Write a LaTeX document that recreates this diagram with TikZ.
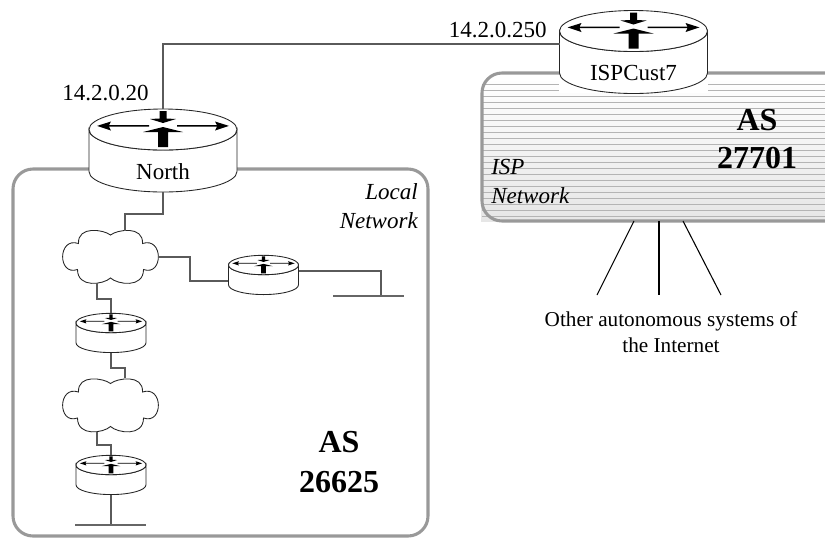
\documentclass[tikz,border=0pt]{standalone}
\usepackage{fontspec}
\setmainfont{Liberation Serif}
\newcommand{\mainsz}{\fontsize{17.25}{21.75}\selectfont}
\newcommand{\othersz}{\fontsize{15.9}{19.5}\selectfont}
\definecolor{boxgray}{HTML}{999999}
\definecolor{hatchgray}{HTML}{B4B4B4}
\definecolor{wiregray}{HTML}{5A5A5A}
\definecolor{fillgray}{HTML}{E6E6E6}
\tikzset{
  routerbody/.style={draw=black!85,fill=white,line width=0.65pt},
  routermark/.style={fill=black,draw=none},
  wire/.style={draw=wiregray,line width=0.8pt},
  barline/.style={draw=black!60,line width=1.4pt},
  netbox/.style={draw=boxgray,line width=2.3pt,rounded corners=15pt},
  hatchline/.style={draw=hatchgray,line width=0.6pt},
  anchorbox/.style={inner sep=0pt,outer sep=0pt,draw=none},
  lbl/.style={inner sep=0pt,font=\mainsz},
  bigas/.style={inner sep=0pt,align=center,font=\fontsize{24}{30}\selectfont\bfseries},
  netlbl/.style={inner sep=0pt,font=\mainsz\itshape}
}
% #1 name, #2 cx, #3 cy of top ellipse, #4 scale, #5 label
\newcommand{\routerdraw}[5]{%
  \begin{scope}[shift={(#2,#3)},scale=#4]
    \path[routerbody] (-74,0) -- (-74,42) arc[start angle=180,end angle=0,x radius=74,y radius=20.5] -- (74,0)
       arc[start angle=0,end angle=180,x radius=74,y radius=20.5] -- cycle;
    \path[routerbody] (0,0) circle[x radius=74,y radius=20.5];
    \path[routermark] (-14,-4.3) -- (-54,-4.3) -- (-52,-8) -- (-66,-3.6) -- (-52,1) -- (-54,-2.9) -- (-14,-2.9) -- cycle;
    \path[routermark] (14,-4.3) -- (54,-4.3) -- (52,-8) -- (66,-3.6) -- (52,1) -- (54,-2.9) -- (14,-2.9) -- cycle;
    \path[routermark] (-3.5,-18.5) -- (3.5,-18.5) -- (3.5,-11) -- (13,-10.5) -- (0,-6.5) -- (-13,-10.5) -- (-3.5,-11) -- cycle;
    \path[routermark] (0,-2.5) -- (20,2.5) -- (5,2.5) -- (5,17.5) -- (-5,17.5) -- (-5,2.5) -- (-20,2.5) -- cycle;
    \node[anchorbox,minimum width=148*0.75pt*#4,minimum height=83*0.75pt*#4] (#1) at (0,21) {};
  \end{scope}%
  \node[lbl] at (#2,#3+42) {#5};%
}
% #1 name, #2 cx, #3 cy
\newcommand{\clouddraw}[3]{%
  \path[routerbody] (#2,#3-21.5)
    .. controls (#2-7,#3-27) and (#2-33,#3-31) .. (#2-32,#3-13)
    .. controls (#2-53,#3-20) and (#2-53,#3+20) .. (#2-33,#3+13)
    .. controls (#2-33,#3+32) and (#2-7,#3+28) .. (#2,#3+21.5)
    .. controls (#2+7,#3+28) and (#2+33,#3+32) .. (#2+33,#3+13)
    .. controls (#2+53,#3+20) and (#2+53,#3-20) .. (#2+32,#3-13)
    .. controls (#2+33,#3-31) and (#2+7,#3-27) .. (#2,#3-21.5) -- cycle;
  \node[anchorbox,minimum width=71.25pt,minimum height=40pt] (#1) at (#2,#3) {};%
}
\begin{document}
\begin{tikzpicture}[x=0.75pt,y=-0.75pt]
\useasboundingbox (0,0) rectangle (825,537);
% ISP network
\begin{scope}
  \clip (0,0) rectangle (825,537);
  \shade[top color=white,bottom color=fillgray] (481,78) rectangle (825,221);
  \foreach \yy in {84,90,...,216} \draw[hatchline] (482,\yy) -- (825,\yy);
  \fill[white] (559,60) rectangle (708,93);
  \draw[netbox] (482,73) rectangle (845,221);
\end{scope}
% Local network
\draw[netbox] (13,169) rectangle (428,536);
% Routers and clouds
\routerdraw{north}{163}{129.5}{1}{North}
\routerdraw{isp}{633.5}{31}{1}{ISPCust7}
\routerdraw{rtwo}{111}{323}{0.473}{}
\routerdraw{rthree}{263.5}{265}{0.473}{}
\routerdraw{rfour}{111}{465}{0.473}{}
\clouddraw{cloudA}{110.5}{256.5}
\clouddraw{cloudB}{110.5}{405}
% Ports
\coordinate (a0) at (163,44);
\coordinate (b0) at (125,214);
\coordinate (b1) at (125,231);
\coordinate (c0) at (158,257);
\coordinate (c1) at (190,281);
\coordinate (c2) at (228,281);
\coordinate (d0) at (97,283);
\coordinate (d1) at (97,299);
\coordinate (e0) at (125,368);
\coordinate (e1) at (125,378);
\coordinate (f0) at (97,432);
\coordinate (f1) at (97,445);
\coordinate (g0) at (111,525);
\coordinate (gl) at (75,525);
\coordinate (gr) at (146,525);
\coordinate (h0) at (299,271);
\coordinate (h1) at (381,296);
\coordinate (hl) at (333,296);
\coordinate (hr) at (404,296);
\coordinate (i0) at (634,221);
\coordinate (i1) at (597,295);
\coordinate (j0) at (659,221);
\coordinate (j1) at (659,295);
\coordinate (k0) at (683,221);
\coordinate (k1) at (721,295);
% Connectors
\draw[wire] (north.north) -- (a0) -- (isp.west |- a0);
\draw[wire] (north.south) |- (b0) -- (b1);
\draw[wire] (c0) -| (c1) -- (c2);
\draw[wire] (d0) -- (d1) -| (rtwo.north);
\draw[wire] (rtwo.south) |- (e0) -- (e1);
\draw[wire] (f0) -- (f1) -| (rfour.north);
\draw[wire] (rfour.south) -- (g0);
\draw[barline] (gl) -- (gr);
\draw[wire] (h0) -| (h1);
\draw[barline] (hl) -- (hr);
\draw[wire,draw=black] (i0) -- (i1);
\draw[wire,draw=black] (j0) -- (j1);
\draw[wire,draw=black] (k0) -- (k1);
% Labels
\node[lbl,anchor=base east] (ipa) at (149,100) {14.2.0.20};
\node[lbl,anchor=base east] (ipb) at (547,37) {14.2.0.250};
\node[netlbl,anchor=base east] (loc1) at (418,199) {Local};
\node[netlbl,anchor=base east] (loc2) at (418,228) {Network};
\node[netlbl,anchor=base west] (isp1) at (491,174) {ISP};
\node[netlbl,anchor=base west] (isp2) at (491,203) {Network};
\node[bigas] (as1) at (757,139) {AS\\[-1pt]27701};
\node[bigas] (as2) at (339,462) {AS\\26625};
\node[inner sep=0pt,align=center,font=\othersz] (oth) at (671,332) {Other autonomous systems of\\the Internet};
\end{tikzpicture}
\end{document}
